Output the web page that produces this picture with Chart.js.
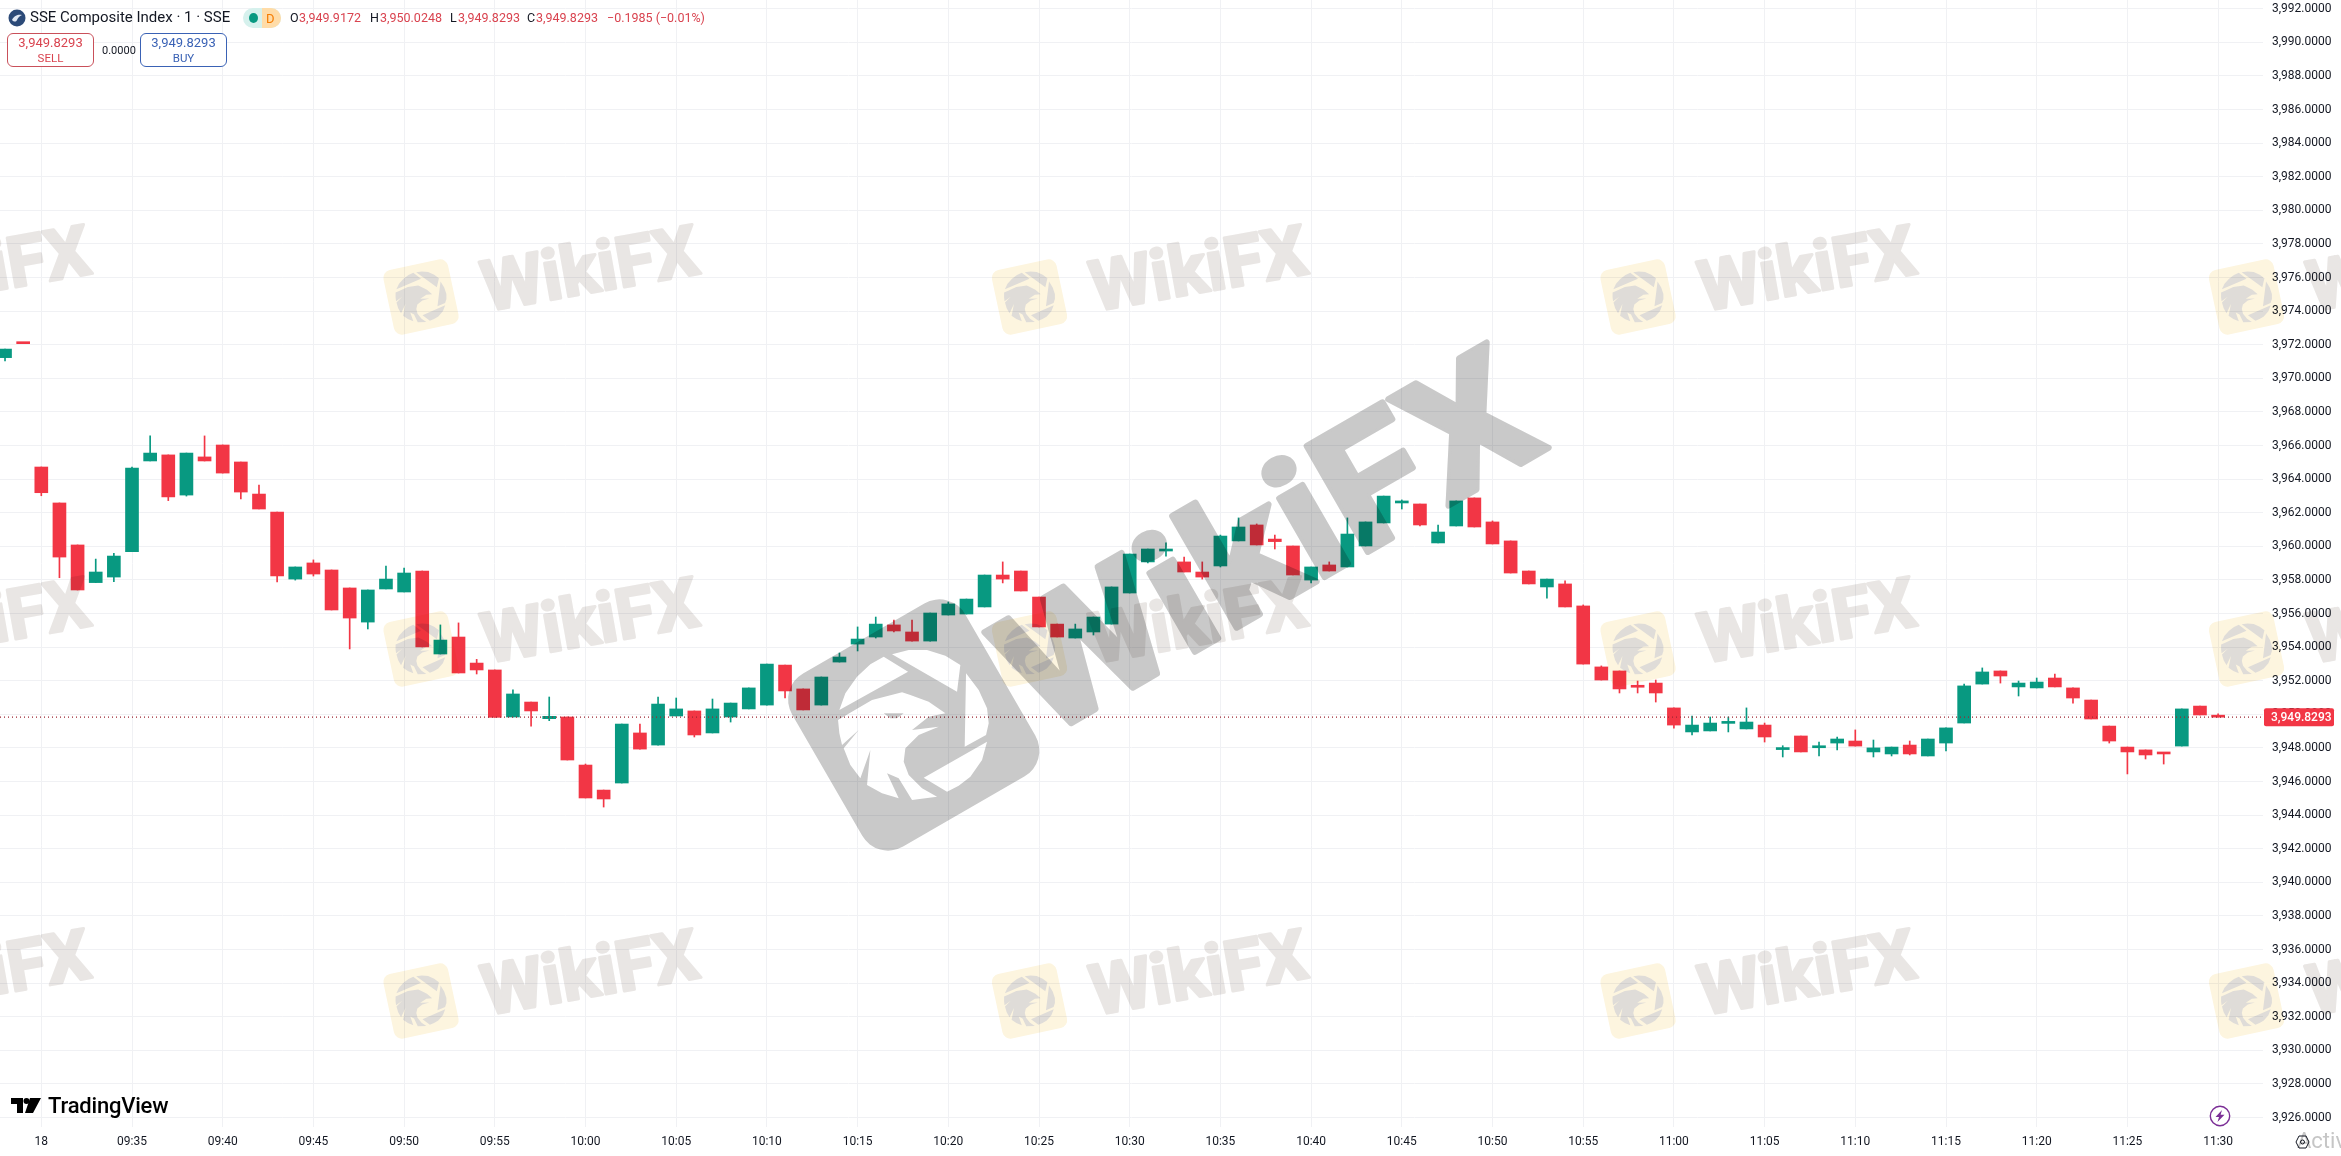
<!DOCTYPE html>
<html lang="en">
<head>
  <meta charset="UTF-8" />
  <title>SSE Composite Index · 1 · SSE</title>
  <script src="https://cdn.jsdelivr.net/npm/chart.js"></script>
  <style>
    body {
      margin: 0;
      width: 2341px;
      height: 1156px;
      overflow: hidden;
      background: #fff;
      font-family: Roboto, sans-serif;
      color: #131722;
      position: relative;
    }
    canvas { position: absolute; left: 0; top: 0; }
    .t { position: absolute; white-space: pre; line-height: 1; }
    .red { color: #d9434f; }
    .blue { color: #3a62b5; }
    .box {
      position: absolute;
      top: 33px;
      width: 85px;
      height: 31px;
      background: #fff;
      border: 1px solid;
      border-radius: 6px;
      text-align: center;
      font-size: 13px;
      line-height: 16px;
      padding-top: 1px;
    }
    .box span { display: block; font-size: 11.5px; line-height: 14px; }
  </style>
</head>
<body>
  <canvas id="chart" width="2341" height="1156"></canvas>

  <svg style="position:absolute;left:8px;top:9px" width="18" height="18" viewBox="0 0 18 18">
    <circle cx="9" cy="9" r="8.5" fill="#2c4a78" />
    <path d="M4 11 C6 6 11 5 14 6 C11 7 10 9 9 11 C8 13 6 13 4 11Z" fill="#dfe7f3" />
  </svg>
  <div class="t" style="left:30px;top:10px;font-size:15px">SSE Composite Index · 1 · SSE</div>
  <div style="position:absolute;left:243px;top:8px;width:38px;height:20px;border-radius:10px;overflow:hidden;background:#d6f1ed">
    <div style="position:absolute;left:19px;top:0;width:19px;height:20px;background:#ffdca8"></div>
    <div style="position:absolute;left:6px;top:5px;width:9px;height:10px;border-radius:50%;background:#089981"></div>
    <div class="t" style="left:23px;top:4px;font-size:13px;color:#f57c00">D</div>
  </div>
  <div class="t" style="left:290px;top:12px;font-size:12.5px">O</div>
  <div class="t red" style="left:299px;top:12px;font-size:12.5px">3,949.9172</div>
  <div class="t" style="left:370px;top:12px;font-size:12.5px">H</div>
  <div class="t red" style="left:380px;top:12px;font-size:12.5px">3,950.0248</div>
  <div class="t" style="left:450px;top:12px;font-size:12.5px">L</div>
  <div class="t red" style="left:458px;top:12px;font-size:12.5px">3,949.8293</div>
  <div class="t" style="left:527px;top:12px;font-size:12.5px">C</div>
  <div class="t red" style="left:536px;top:12px;font-size:12.5px">3,949.8293</div>
  <div class="t red" style="left:607px;top:12px;font-size:12.5px">−0.1985 (−0.01%)</div>

  <div class="box red" style="left:7px;border-color:#c9505a">3,949.8293<span>SELL</span></div>
  <div class="t" style="left:102px;top:45px;font-size:11px">0.0000</div>
  <div class="box blue" style="left:140px;border-color:#3a62b5">3,949.8293<span>BUY</span></div>

  <svg style="position:absolute;left:11px;top:1098px" width="30" height="16" viewBox="0 0 30 16">
    <path d="M0 0H12V15H6V6H0Z M19 0L26 0 L30 0 L22 15H14Z" fill="#000" />
    <circle cx="15.5" cy="3" r="3" fill="#000" />
  </svg>
  <div class="t" style="left:48px;top:1095px;font-size:22px;font-weight:500;letter-spacing:-0.2px;color:#000">TradingView</div>

  <svg style="position:absolute;left:2209px;top:1105px" width="22" height="22" viewBox="0 0 22 22">
    <circle cx="11" cy="11" r="9.7" fill="#fff" stroke="#7b2e96" stroke-width="1.4" />
    <path d="M13 5L6.5 12H10L8.5 17L15.5 9.8H11.6Z" fill="#7b2e96" />
  </svg>
  <div class="t" style="left:2297px;top:1130px;font-size:22px;color:#c6c6c6">Activa</div>
  <svg style="position:absolute;left:2295px;top:1135px" width="15" height="14" viewBox="0 0 15 14">
    <path d="M4 1H11L14 7L11 13H4L1 7Z" fill="none" stroke="#131722" stroke-width="1" />
    <circle cx="7.5" cy="7" r="2" fill="none" stroke="#131722" stroke-width="1" />
  </svg>

  <script>
    const times = ['14:58', '14:59',
      '09:30', '09:31', '09:32', '09:33', '09:34', '09:35', '09:36', '09:37', '09:38', '09:39',
      '09:40', '09:41', '09:42', '09:43', '09:44', '09:45', '09:46', '09:47', '09:48', '09:49',
      '09:50', '09:51', '09:52', '09:53', '09:54', '09:55', '09:56', '09:57', '09:58', '09:59',
      '10:00', '10:01', '10:02', '10:03', '10:04', '10:05', '10:06', '10:07', '10:08', '10:09',
      '10:10', '10:11', '10:12', '10:13', '10:14', '10:15', '10:16', '10:17', '10:18', '10:19',
      '10:20', '10:21', '10:22', '10:23', '10:24', '10:25', '10:26', '10:27', '10:28', '10:29',
      '10:30', '10:31', '10:32', '10:33', '10:34', '10:35', '10:36', '10:37', '10:38', '10:39',
      '10:40', '10:41', '10:42', '10:43', '10:44', '10:45', '10:46', '10:47', '10:48', '10:49',
      '10:50', '10:51', '10:52', '10:53', '10:54', '10:55', '10:56', '10:57', '10:58', '10:59',
      '11:00', '11:01', '11:02', '11:03', '11:04', '11:05', '11:06', '11:07', '11:08', '11:09',
      '11:10', '11:11', '11:12', '11:13', '11:14', '11:15', '11:16', '11:17', '11:18', '11:19',
      '11:20', '11:21', '11:22', '11:23', '11:24', '11:25', '11:26', '11:27', '11:28', '11:29',
      '11:30'];

    const opens = [3971.23, 3972.10,
      3964.72, 3962.58, 3960.08, 3957.84, 3958.17, 3959.68, 3965.08, 3965.44, 3963.05, 3965.32,
      3966.03, 3965.02, 3963.11, 3962.04, 3958.05, 3959.01, 3958.59, 3957.52, 3955.49, 3957.46,
      3957.28, 3958.53, 3953.59, 3954.60, 3953.05, 3952.64, 3949.84, 3950.73, 3949.74, 3949.84,
      3946.98, 3945.49, 3945.91, 3948.89, 3948.17, 3949.90, 3950.20, 3948.89, 3949.84, 3950.32,
      3950.55, 3952.93, 3951.51, 3950.55, 3953.11, 3954.18, 3954.60, 3955.32, 3954.90, 3954.36,
      3955.91, 3955.97, 3956.39, 3958.29, 3958.53, 3956.98, 3955.37, 3954.54, 3954.90, 3955.37,
      3957.22, 3959.07, 3959.72, 3959.07, 3958.47, 3958.83, 3960.32, 3961.27, 3960.43, 3960.02,
      3957.99, 3958.89, 3958.77, 3960.02, 3961.39, 3962.58, 3962.52, 3960.20, 3961.21, 3962.88,
      3961.45, 3960.32, 3958.53, 3957.58, 3957.76, 3956.45, 3952.82, 3952.58, 3951.69, 3951.86,
      3950.38, 3948.95, 3949.01, 3949.46, 3949.13, 3949.36, 3947.90, 3948.71, 3948.01, 3948.29,
      3948.41, 3947.76, 3947.64, 3948.17, 3947.52, 3948.29, 3949.48, 3951.80, 3952.58, 3951.63,
      3951.57, 3952.16, 3951.57, 3950.85, 3949.30, 3948.05, 3947.88, 3947.68, 3948.11, 3950.49,
      3949.9172];

    const highs = [3971.74, 3972.10,
      3964.72, 3962.58, 3960.08, 3959.24, 3959.58, 3964.72, 3966.57, 3965.44, 3965.55, 3966.57,
      3966.03, 3965.02, 3963.65, 3962.04, 3958.77, 3959.19, 3958.59, 3957.52, 3957.40, 3958.83,
      3958.71, 3958.53, 3955.32, 3955.44, 3953.27, 3952.64, 3951.45, 3950.73, 3951.03, 3949.84,
      3947.04, 3945.49, 3949.42, 3949.42, 3951.03, 3950.97, 3950.20, 3950.91, 3950.67, 3951.57,
      3952.99, 3952.93, 3951.51, 3952.22, 3953.65, 3955.20, 3955.79, 3955.61, 3955.61, 3956.03,
      3956.68, 3956.86, 3958.29, 3959.07, 3958.53, 3956.98, 3955.37, 3955.37, 3955.79, 3957.58,
      3959.54, 3959.84, 3960.20, 3959.36, 3959.07, 3960.67, 3961.69, 3961.33, 3960.67, 3960.02,
      3958.77, 3959.07, 3961.69, 3961.45, 3962.99, 3962.76, 3962.52, 3961.27, 3962.70, 3962.88,
      3961.51, 3960.32, 3958.53, 3958.05, 3957.94, 3956.51, 3952.88, 3952.58, 3951.98, 3952.04,
      3950.38, 3949.90, 3949.84, 3949.84, 3950.38, 3949.48, 3948.13, 3948.71, 3948.35, 3948.65,
      3949.07, 3948.47, 3948.05, 3948.41, 3948.53, 3949.19, 3951.80, 3952.76, 3952.58, 3951.98,
      3952.16, 3952.40, 3951.57, 3950.85, 3949.30, 3948.05, 3947.88, 3947.68, 3950.32, 3950.49,
      3950.0248];

    const lows = [3971.03, 3972.06,
      3963.01, 3958.13, 3957.40, 3957.84, 3957.90, 3959.68, 3965.08, 3962.72, 3962.99, 3965.08,
      3964.36, 3962.82, 3962.22, 3957.88, 3957.99, 3958.23, 3956.21, 3953.89, 3955.08, 3957.46,
      3957.28, 3954.01, 3953.59, 3952.46, 3952.40, 3949.82, 3949.84, 3949.30, 3949.62, 3947.28,
      3945.02, 3944.48, 3945.91, 3947.93, 3948.17, 3949.90, 3948.65, 3948.89, 3949.54, 3950.32,
      3950.55, 3950.97, 3950.26, 3950.55, 3953.11, 3953.77, 3954.54, 3954.90, 3954.36, 3954.36,
      3955.91, 3955.97, 3956.39, 3957.82, 3957.34, 3955.20, 3954.60, 3954.54, 3954.72, 3955.37,
      3957.22, 3959.01, 3959.42, 3958.47, 3958.05, 3958.77, 3960.32, 3960.08, 3959.84, 3958.29,
      3957.82, 3958.53, 3958.77, 3960.02, 3961.39, 3962.22, 3961.21, 3960.20, 3961.21, 3961.15,
      3960.14, 3958.41, 3957.76, 3956.92, 3956.39, 3952.99, 3952.04, 3951.27, 3951.27, 3950.73,
      3949.18, 3948.77, 3949.01, 3948.95, 3949.13, 3948.35, 3947.46, 3947.76, 3947.52, 3947.88,
      3948.11, 3947.46, 3947.52, 3947.58, 3947.52, 3947.82, 3949.48, 3951.80, 3951.86, 3951.09,
      3951.57, 3951.63, 3950.67, 3949.72, 3948.29, 3946.45, 3947.34, 3947.04, 3948.11, 3949.96,
      3949.8293];

    const closes = [3971.74, 3972.06,
      3963.19, 3959.36, 3957.40, 3958.47, 3959.42, 3964.66, 3965.55, 3962.94, 3965.55, 3965.08,
      3964.36, 3963.23, 3962.22, 3958.23, 3958.77, 3958.35, 3956.21, 3955.73, 3957.40, 3958.05,
      3958.41, 3954.01, 3954.42, 3952.46, 3952.64, 3949.82, 3951.21, 3950.20, 3949.88, 3947.28,
      3945.02, 3944.96, 3949.42, 3947.93, 3950.61, 3950.32, 3948.77, 3950.32, 3950.67, 3951.57,
      3952.99, 3951.39, 3950.26, 3952.22, 3953.41, 3954.48, 3955.37, 3954.96, 3954.36, 3956.03,
      3956.57, 3956.86, 3958.29, 3958.05, 3957.34, 3955.20, 3954.60, 3955.08, 3955.79, 3957.58,
      3959.54, 3959.84, 3959.76, 3958.47, 3958.17, 3960.61, 3961.15, 3960.08, 3960.28, 3958.29,
      3958.77, 3958.53, 3960.73, 3961.45, 3962.99, 3962.70, 3961.27, 3960.85, 3962.70, 3961.15,
      3960.14, 3958.41, 3957.76, 3958.05, 3956.39, 3952.99, 3952.04, 3951.51, 3951.61, 3951.27,
      3949.36, 3949.36, 3949.48, 3949.50, 3949.54, 3948.65, 3948.01, 3947.76, 3948.05, 3948.53,
      3948.11, 3948.00, 3948.05, 3947.64, 3948.53, 3949.19, 3951.69, 3952.52, 3952.28, 3951.86,
      3951.92, 3951.63, 3950.97, 3949.72, 3948.41, 3947.76, 3947.58, 3947.64, 3950.32, 3949.96,
      3949.8293];

    const tickLabels = ['18', '09:35', '09:40', '09:45', '09:50', '09:55', '10:00', '10:05', '10:10',
      '10:15', '10:20', '10:25', '10:30', '10:35', '10:40', '10:45', '10:50', '10:55', '11:00',
      '11:05', '11:10', '11:15', '11:20', '11:25', '11:30'];

    const priceTicks = [3926, 3928, 3930, 3932, 3934, 3936, 3938, 3940, 3942, 3944, 3946, 3948, 3950,
      3952, 3954, 3956, 3958, 3960, 3962, 3964, 3966, 3968, 3970, 3972, 3974, 3976, 3978, 3980, 3982,
      3984, 3986, 3988, 3990, 3992];

    const lastPrice = 3949.8293;
    const RED = '#f23645';
    const GREEN = '#089981';
    const firstSession = times.indexOf('09:30');

    // visible window, in bars from 09:30 and in index points
    const xMin = -2.277;
    const xMax = 122.475;
    const yMin = 3925.435;
    const yMax = 3992.518;

    const colors = closes.map((c, i) => (c < opens[i] ? RED : GREEN));
    const bodies = times.map((t, i) => ({ x: i - firstSession, y: [opens[i], closes[i]] }));
    const wicks = times.map((t, i) => ({ x: i - firstSession, y: [lows[i], highs[i]] }));

    // eagle cut-outs, drawn in the big logo's own frame
    function eaglePath() {
      const p = new Path2D();
      const k = 1 / 3;
      const poly = (pts) => {
        pts.forEach((q, i) => {
          const x = (q[0] - 455) * k;
          const y = (q[1] - 440) * k;
          if (i === 0) p.moveTo(x, y); else p.lineTo(x, y);
        });
        p.closePath();
      };
      poly([[232, 395], [250, 345], [285, 295], [325, 258], [365, 235], [438, 280]]);
      poly([[390, 228], [440, 215], [495, 215], [550, 232], [595, 260], [585, 340]]);
      poly([[612, 285], [650, 335], [675, 390], [680, 435], [672, 470], [608, 505]]);
      poly([[675, 490], [660, 545], [625, 595], [590, 622], [555, 640], [485, 598]]);
      poly([[228, 425], [262, 405], [330, 365], [420, 342], [445, 350], [500, 370], [550, 405],
        [500, 415], [450, 455], [530, 445], [470, 470], [430, 510], [425, 550], [440, 590],
        [480, 630], [525, 655], [450, 665], [410, 600], [375, 585], [410, 660], [360, 645],
        [315, 620], [325, 515], [295, 600], [265, 560], [245, 510], [290, 455], [240, 500], [232, 465]]);
      poly([[365, 405], [425, 405], [405, 420], [385, 420]]);
      return p;
    }

    // draw on a separate layer, then multiply it over the chart
    function multiplyLayer(ctx, draw) {
      const layer = document.createElement('canvas');
      layer.width = 2341;
      layer.height = 1156;
      draw(layer.getContext('2d'));
      ctx.save();
      ctx.globalCompositeOperation = 'multiply';
      ctx.drawImage(layer, 0, 0);
      ctx.restore();
    }

    function wikiText(c, x, y, deg, size, stroke, color, stretch) {
      c.save();
      c.translate(x, y);
      c.rotate(deg * Math.PI / 180);
      c.scale(stretch, 1);
      c.font = 'bold ' + size + 'px Roboto';
      c.textAlign = 'center';
      c.textBaseline = 'middle';
      c.fillStyle = color;
      c.strokeStyle = color;
      c.lineWidth = stroke;
      c.lineJoin = 'round';
      c.strokeText('WikiFX', 0, 0);
      c.fillText('WikiFX', 0, 0);
      c.restore();
    }

    const watermark = {
      id: 'watermark',
      afterDraw(chart) {
        const ctx = chart.ctx;
        const eagle = eaglePath();

        // repeating faint logos with text
        multiplyLayer(ctx, (c) => {
          for (let row = 0; row < 3; row++) {
            for (let col = -1; col < 4; col++) {
              const x = 421 + col * 608.5;
              const y = 297 + row * 352;
              c.save();
              c.translate(x, y);
              c.rotate(-12 * Math.PI / 180);
              c.fillStyle = '#fdf5df';
              c.beginPath();
              c.roundRect(-33, -33, 66, 66, 8);
              c.fill();
              c.rotate(18 * Math.PI / 180);
              c.scale(0.34, 0.34);
              c.fillStyle = '#dfdcd8';
              c.fill(eagle);
              c.restore();
              wikiText(c, x + 170, y - 22, -10, 70, 3, '#e9e6e4', 1);
            }
          }
        });

        // big centre logo and text
        multiplyLayer(ctx, (c) => {
          c.save();
          c.translate(913.7, 725);
          const big = new Path2D();
          big.addPath(eagle);
          const plate = new Path2D();
          plate.roundRect(-100, -100, 200, 200, 30);
          big.addPath(plate, new DOMMatrix().rotate(-30));
          c.fillStyle = '#c9c9c9';
          c.fill(big, 'evenodd');
          c.restore();
          wikiText(c, 1275, 556, -30, 172, 6, '#c9c9c9', 1.09);
        });

        // last price tag
        const y = chart.scales.y.getPixelForValue(lastPrice);
        ctx.save();
        ctx.fillStyle = RED;
        ctx.beginPath();
        ctx.roundRect(2264, y - 9, 70, 18, 2);
        ctx.fill();
        ctx.fillStyle = '#fff';
        ctx.font = '500 12px Roboto';
        ctx.textBaseline = 'middle';
        ctx.fillText('3,949.8293', 2271, y + 0.5);
        ctx.restore();
      }
    };

    new Chart(document.getElementById('chart'), {
      data: {
        datasets: [
          {
            type: 'bar',
            data: wicks,
            order: 2,
            grouped: false,
            barThickness: 1,
            backgroundColor: colors
          },
          {
            type: 'bar',
            data: bodies,
            order: 1,
            grouped: false,
            barThickness: 13,
            minBarLength: 2,
            backgroundColor: colors
          },
          {
            type: 'line',
            data: [{ x: xMin, y: lastPrice }, { x: xMax, y: lastPrice }],
            order: 0,
            borderColor: '#9c2430',
            borderWidth: 1.2,
            borderDash: [1, 3],
            pointRadius: 0
          }
        ]
      },
      options: {
        responsive: false,
        animation: false,
        plugins: { legend: { display: false }, tooltip: { enabled: false } },
        scales: {
          x: {
            type: 'linear',
            offset: false,
            bounds: 'data',
            min: xMin,
            max: xMax,
            afterBuildTicks: (scale) => { scale.ticks = tickLabels.map((l, i) => ({ value: i * 5 })); },
            afterFit: (scale) => {
              scale.height = 29;
              scale.paddingLeft = 0;
              scale.paddingRight = 0;
            },
            grid: { offset: false, color: '#f0f1f4', drawTicks: false },
            border: { display: false },
            ticks: {
              autoSkip: false,
              maxRotation: 0,
              padding: 8,
              color: '#131722',
              font: { family: 'Roboto', size: 12 },
              callback: (v) => tickLabels[v / 5]
            }
          },
          y: {
            type: 'linear',
            position: 'right',
            bounds: 'data',
            min: yMin,
            max: yMax,
            afterBuildTicks: (scale) => { scale.ticks = priceTicks.map((value) => ({ value })); },
            afterFit: (scale) => {
              scale.width = 78;
              scale.paddingTop = 0;
              scale.paddingBottom = 0;
            },
            grid: { color: '#f0f1f4', drawTicks: false },
            border: { display: false },
            ticks: {
              autoSkip: false,
              padding: 9,
              color: '#131722',
              font: { family: 'Roboto', size: 12 },
              callback: (v) => v.toLocaleString('en-US', { minimumFractionDigits: 4, maximumFractionDigits: 4 })
            }
          }
        }
      },
      plugins: [watermark]
    });
  </script>
</body>
</html>
